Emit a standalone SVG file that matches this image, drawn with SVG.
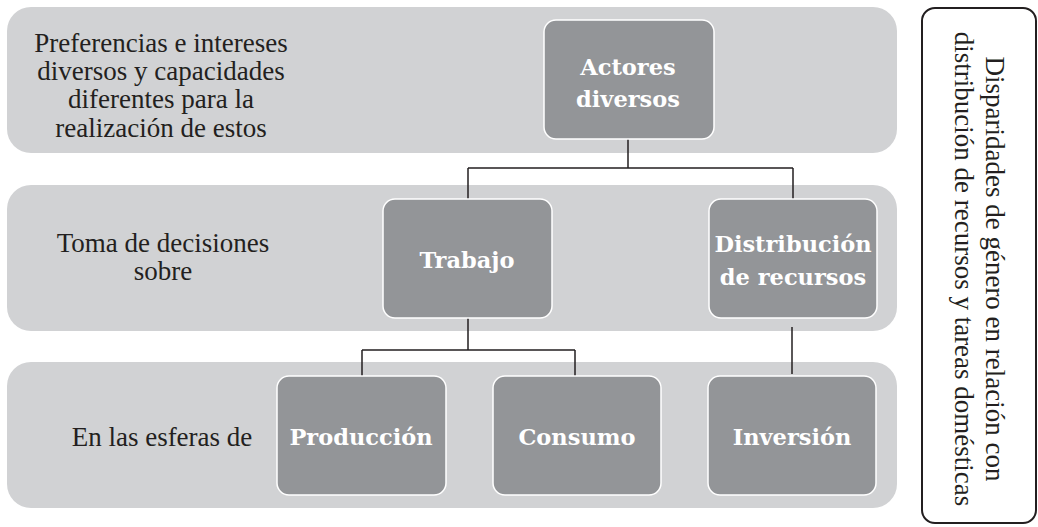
<svg xmlns="http://www.w3.org/2000/svg" width="1038" height="527" viewBox="0 0 1038 527">
<style>
.band{fill:#d1d2d4}
.box{fill:#939598;stroke:#ffffff;stroke-width:1.5}
.lbl{font-family:"DejaVu Serif","Liberation Serif",serif;font-weight:bold;font-size:22.5px;fill:#ffffff;text-anchor:middle}
.txt{font-family:"Liberation Serif","Times New Roman",serif;font-size:27px;fill:#231f20;text-anchor:middle}
.con{fill:none;stroke:#231f20;stroke-width:1.5}
</style>
<rect width="1038" height="527" fill="#ffffff"/>
<g id="bands">
<rect class="band" x="7" y="7" width="890" height="146" rx="24"/>
<rect class="band" x="7" y="185" width="890" height="146" rx="24"/>
<rect class="band" x="7" y="362" width="890" height="146" rx="24"/>
</g>
<g id="row-labels">
<text class="txt" x="161" y="52">Preferencias e intereses</text>
<text class="txt" x="161" y="80">diversos y capacidades</text>
<text class="txt" x="161" y="108">diferentes para la</text>
<text class="txt" x="161" y="137">realización de estos</text>
<text class="txt" x="163" y="252">Toma de decisiones</text>
<text class="txt" x="163" y="280">sobre</text>
<text class="txt" x="162" y="446">En las esferas de</text>
</g>
<g id="connectors">
<path class="con" d="M628 139 V168 M468 168 H793 M468 168 V199 M793 168 V199"/>
<path class="con" d="M468 318 V350 M362 350 H575 M362 350 V376 M575 350 V376"/>
<path class="con" d="M792 327 V374"/>
</g>
<g id="actores">
<rect class="box" x="544" y="20" width="170" height="119" rx="12"/>
<text class="lbl" x="628" y="75">Actores</text>
<text class="lbl" x="628" y="107">diversos</text>
</g>
<g id="trabajo">
<rect class="box" x="383" y="199" width="169" height="119" rx="12"/>
<text class="lbl" x="467" y="268">Trabajo</text>
</g>
<g id="distribucion">
<rect class="box" x="709" y="199" width="168" height="119" rx="12"/>
<text class="lbl" x="793" y="252">Distribución</text>
<text class="lbl" x="793" y="285">de recursos</text>
</g>
<g id="produccion">
<rect class="box" x="277" y="376" width="169" height="119" rx="12"/>
<text class="lbl" x="361" y="445">Producción</text>
</g>
<g id="consumo">
<rect class="box" x="493" y="376" width="168" height="119" rx="12"/>
<text class="lbl" x="577" y="445">Consumo</text>
</g>
<g id="inversion">
<rect class="box" x="708" y="376" width="168" height="119" rx="12"/>
<text class="lbl" x="792" y="445">Inversión</text>
</g>
<g id="side-note">
<rect x="922" y="8" width="114" height="515" rx="13" fill="#ffffff" stroke="#231f20" stroke-width="2"/>
<text class="txt" font-size="27.5" transform="translate(986 269) rotate(90)" x="0" y="0">Disparidades de género en relación con</text>
<text class="txt" font-size="27.5" transform="translate(955 269) rotate(90)" x="0" y="0">distribución de recursos y tareas domésticas</text>
</g>
</svg>
